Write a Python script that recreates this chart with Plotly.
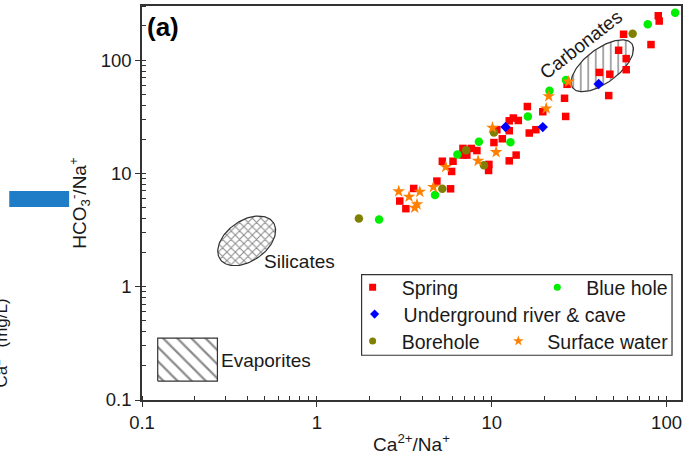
import math
import plotly.graph_objects as go

# ---------------- data ----------------
spring_x = [2.98, 3.23, 3.58, 4.86, 5.82, 5.22, 5.90, 6.01, 6.85, 7.21, 7.65, 8.23, 6.85,
            9.64, 9.60, 10.3, 11.5, 12.6, 13.8, 10.7, 12.6, 12.6, 13.3, 14.2, 16.0, 16.4,
            17.9, 19.6, 26.1, 26.5, 27.0, 41.3, 47.4, 46.7, 53.2, 58.8, 58.8, 56.8, 81.5,
            89.7, 90.8]
spring_y = [5.70, 4.88, 7.36, 8.55, 7.31, 12.8, 10.4, 12.8, 16.6, 14.5, 16.6, 15.9, 14.5,
            12.0, 10.6, 18.7, 20.2, 12.9, 14.5, 24.3, 23.8, 29.1, 30.8, 29.3, 38.9, 22.7,
            24.3, 35.0, 46.0, 31.8, 61.1, 77.8, 75.0, 48.6, 122, 103, 82.2, 169, 137,
            246, 221]

bluehole_x = [2.27, 4.74, 6.37, 8.45, 12.8, 16.1, 21.4, 26.6, 78.1, 112]
bluehole_y = [3.91, 6.44, 14.7, 19.0, 18.8, 31.8, 53.5, 66.7, 207, 261]

cave_x = [12.0, 19.6, 40.9]
cave_y = [25.7, 25.6, 61.5]

borehole_x = [1.74, 5.22, 7.14, 9.03, 10.3, 64.0]
borehole_y = [3.99, 7.31, 16.0, 11.8, 23.0, 171]

surface_x = [2.94, 3.37, 3.63, 3.74, 3.88, 4.64, 5.46, 8.36, 10.6, 10.1, 20.5, 21.2, 27.5]
surface_y = [6.93, 6.22, 4.98, 5.33, 6.88, 7.57, 11.4, 12.9, 15.4, 25.3, 37.4, 47.9, 64.5]

series_names = ["Spring", "Blue hole", "Underground river & cave", "Borehole", "Surface water"]

X_RANGE = (0.1, 121)
Y_RANGE = (0.1, 300)

# region outlines (centres in data units)
carb_center = (42.9, 89.1)
sil_center = (0.397, 2.54)
evap_x = (0.123, 0.27)
evap_y = (0.147, 0.352)

# ---------------- layout geometry ----------------
W, H = 687, 462
ML, MR, MT, MB = 142, 5, 4, 62
PW, PH = W - ML - MR, H - MT - MB
LX0, LX1 = math.log10(X_RANGE[0]), math.log10(X_RANGE[1])
LY0, LY1 = math.log10(Y_RANGE[0]), math.log10(Y_RANGE[1])
DEC_X = PW / (LX1 - LX0)
DEC_Y = PH / (LY1 - LY0)


def pxp(px):
    return (px - ML) / PW


def pyp(py):
    return (H - MB - py) / PH


def ellipse(center, a_px, b_px, ang_deg, n=120):
    th = math.radians(ang_deg)
    lcx, lcy = math.log10(center[0]), math.log10(center[1])
    xs, ys = [], []
    for i in range(n + 1):
        t = 2 * math.pi * i / n
        u = a_px * math.cos(t) * math.cos(th) - b_px * math.sin(t) * math.sin(th)
        v = a_px * math.cos(t) * math.sin(th) + b_px * math.sin(t) * math.cos(th)
        xs.append(10 ** (lcx + u / DEC_X))
        ys.append(10 ** (lcy + v / DEC_Y))
    return xs, ys


FONT = "Arial, Liberation Sans, sans-serif"
TXT = "#1a1a1a"
AX = "#333333"
HATCH = "#1a1a1a"

fig = go.Figure()

# ---- hatched regions ----
cx, cy = ellipse(carb_center, 37, 17, 37)
fig.add_trace(go.Scatter(x=cx, y=cy, mode="lines", fill="toself", fillcolor="white",
                         line=dict(color=AX, width=1.2),
                         fillpattern=dict(shape="|", size=7.5, solidity=0.2,
                                          fgcolor=HATCH, bgcolor="white"),
                         showlegend=False, hoverinfo="skip"))
sx, sy = ellipse(sil_center, 32.4, 20.3, 35)
fig.add_trace(go.Scatter(x=sx, y=sy, mode="lines", fill="toself", fillcolor="white",
                         line=dict(color=AX, width=1.2),
                         fillpattern=dict(shape="x", size=6, solidity=0.32,
                                          fgcolor=HATCH, bgcolor="white"),
                         showlegend=False, hoverinfo="skip"))
fig.add_trace(go.Scatter(x=[evap_x[0], evap_x[1], evap_x[1], evap_x[0], evap_x[0]],
                         y=[evap_y[0], evap_y[0], evap_y[1], evap_y[1], evap_y[0]],
                         mode="lines", fill="toself", fillcolor="white",
                         line=dict(color=AX, width=1.2),
                         fillpattern=dict(shape="\\", size=10, solidity=0.22,
                                          fgcolor=HATCH, bgcolor="white"),
                         showlegend=False, hoverinfo="skip"))

# ---- data series ----
styles = [
    (spring_x, spring_y, "square", "#ff0000", 7.5),
    (bluehole_x, bluehole_y, "circle", "#00ee00", 8.5),
    (cave_x, cave_y, "diamond", "#0000ff", 8),
    (borehole_x, borehole_y, "circle", "#808000", 8.5),
    (surface_x, surface_y, "star", "#ff8000", 9.5),
]
for (xs, ys, sym, col, sz), name in zip(styles, series_names):
    fig.add_trace(go.Scatter(x=xs, y=ys, mode="markers", name=name,
                             marker=dict(symbol=sym, color=col, size=sz, line=dict(width=0)),
                             showlegend=False))

# ---- legend entries (one legend per entry to mimic the boxed 2-column layout) ----
legend_ids = ["legend", "legend2", "legend3", "legend4", "legend5"]
legend_pos = [(373, 287), (558, 287), (375, 314), (373, 341), (519, 341)]
for (xs, ys, sym, col, sz), name, lid in zip(styles, series_names, legend_ids):
    fig.add_trace(go.Scatter(x=[None], y=[None], mode="markers", name=name, legend=lid,
                             marker=dict(symbol=sym, color=col, size=7 if sym != "star" else 8,
                                         line=dict(width=0)),
                             showlegend=True))

legend_layout = {}
for lid, (mx, my) in zip(legend_ids, legend_pos):
    legend_layout[lid] = dict(x=pxp(mx - 29), y=pyp(my), xanchor="left", yanchor="middle",
                              xref="paper", yref="paper", bgcolor="rgba(0,0,0,0)",
                              borderwidth=0, itemwidth=48,
                              font=dict(family=FONT, size=19.5, color=TXT))

axis_common = dict(
    type="log", showgrid=False, zeroline=False,
    showline=True, linecolor=AX, linewidth=1.5, mirror=True,
    ticks="outside", ticklen=5, tickwidth=1.3, tickcolor=AX,
    tickfont=dict(family=FONT, size=18.5, color=TXT),
    dtick=1, tick0=0,
    minor=dict(ticks="inside", ticklen=4, tickwidth=1.2, tickcolor=AX, dtick="D1", showgrid=False),
)

fig.update_layout(
    width=W, height=H,
    margin=dict(l=ML, r=MR, t=MT, b=MB),
    paper_bgcolor="white", plot_bgcolor="white",
    font=dict(family=FONT, size=18, color=TXT),
    xaxis=dict(range=[LX0, LX1],
               title=dict(text="Ca<sup>2+</sup>/Na<sup>+</sup>", standoff=6,
                          font=dict(family=FONT, size=19, color=TXT)),
               **axis_common),
    yaxis=dict(range=[LY0, LY1],
               title=dict(text="HCO<sub>3</sub><sup>-</sup>/Na<sup>+</sup>", standoff=9,
                          font=dict(family=FONT, size=19, color=TXT)),
               **axis_common),
    **legend_layout,
)

# legend frame
fig.add_shape(type="rect", xref="paper", yref="paper",
              x0=pxp(362), x1=pxp(673), y0=pyp(355), y1=pyp(274),
              line=dict(color=AX, width=1.2), fillcolor="rgba(255,255,255,0)", layer="above")

# stray bar from neighbouring panel
fig.add_shape(type="rect", xref="paper", yref="paper",
              x0=pxp(9), x1=pxp(69), y0=pyp(206), y1=pyp(190),
              line=dict(width=0), fillcolor="#1f7cc6")

annots = [
    dict(text="<b>(a)</b>", x=pxp(163), y=pyp(25), font=dict(family=FONT, size=26, color="black"), textangle=0),
    dict(text="Carbonates", x=pxp(582), y=pyp(43), font=dict(family=FONT, size=19, color=TXT), textangle=-38),
    dict(text="Silicates", x=pxp(300), y=pyp(260.5), font=dict(family=FONT, size=19, color=TXT), textangle=0),
    dict(text="Evaporites", x=pxp(266), y=pyp(360), font=dict(family=FONT, size=19, color=TXT), textangle=0),
    dict(text="Ca<sup>2+</sup> (mg/L)", x=pxp(0), y=pyp(343), font=dict(family=FONT, size=17, color=TXT), textangle=-90),
]
for a in annots:
    fig.add_annotation(xref="paper", yref="paper", showarrow=False,
                       xanchor="center", yanchor="middle", **a)

fig.write_html("out.html")
